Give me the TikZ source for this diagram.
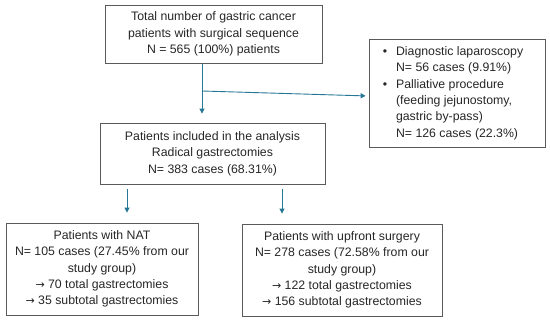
\documentclass[tikz,border=0pt]{standalone}
\usepackage{fontspec}
\setmainfont{Liberation Sans}
\newfontfamily\symfont{DejaVu Sans}
\usepackage{xcolor}
\usepackage{tikz}
\usetikzlibrary{arrows.meta, positioning}

\definecolor{flowblue}{RGB}{38,118,150}
\definecolor{boxgray}{RGB}{90,90,90}
\newcommand{\rarr}{{\symfont\fontsize{11}{11}\selectfont →}}

\tikzset{
  box/.style={draw=boxgray, line width=0.8pt, align=center, inner sep=0pt,
    font=\fontsize{12.3}{16.4}\selectfont, text=black!85},
  flow/.style={draw=flowblue, line width=0.9pt, -{Triangle[length=5pt,width=5pt]}},
}

\begin{document}
\begin{tikzpicture}[x=1pt, y=-1pt]
  \useasboundingbox (0,0) rectangle (550,321);
  % Boxes
  \node[box, minimum width=217pt, minimum height=58pt] (total) at (213.5,34)
    {Total number of gastric cancer\\patients with surgical sequence\\N = 565 (100\%) patients};
  \node[box, minimum width=176pt, minimum height=108pt] (others) at (457,93)
    {\hspace*{-8pt}\begin{tabular}{@{}c@{\hspace{9pt}}l@{}}
      \textbullet & Diagnostic laparoscopy\\
                  & N= 56 cases (9.91\%)\\
      \textbullet & Palliative procedure\\
                  & (feeding jejunostomy,\\
                  & gastric by-pass)\\
                  & N= 126 cases (22.3\%)
    \end{tabular}};
  \node[box, minimum width=225pt, minimum height=61pt] (included) at (212.5,153.5)
    {Patients included in the analysis\\Radical gastrectomies\\N= 383 cases (68.31\%)};
  \node[box, minimum width=192pt, minimum height=92pt] (nat) at (102,269)
    {Patients with NAT\\N= 105 cases (27.45\% from our\\study group)\\
     \rarr{} 70 total gastrectomies\\\rarr{} 35 subtotal gastrectomies};
  \node[box, minimum width=200pt, minimum height=92pt] (upfront) at (342,270)
    {Patients with upfront surgery\\N= 278 cases (72.58\% from our\\study group)\\
     \rarr{} 122 total gastrectomies\\\rarr{} 156 subtotal gastrectomies};
  % Connectors
  \coordinate (split) at (202,91);
  \coordinate (left) at (127,0);
  \coordinate (right) at (282,0);
  \draw[flow, shorten <=1pt, shorten >=9pt] (total.south -| split) -- (included.north -| split);
  \draw[flow, shorten >=3pt] (split) -- ([yshift=-3pt]others.west);
  \draw[flow, shorten <=5pt, shorten >=10pt] (included.south -| left) -- (nat.north -| left);
  \draw[flow, shorten <=5pt, shorten >=10pt] (included.south -| right) -- (upfront.north -| right);
\end{tikzpicture}
\end{document}
